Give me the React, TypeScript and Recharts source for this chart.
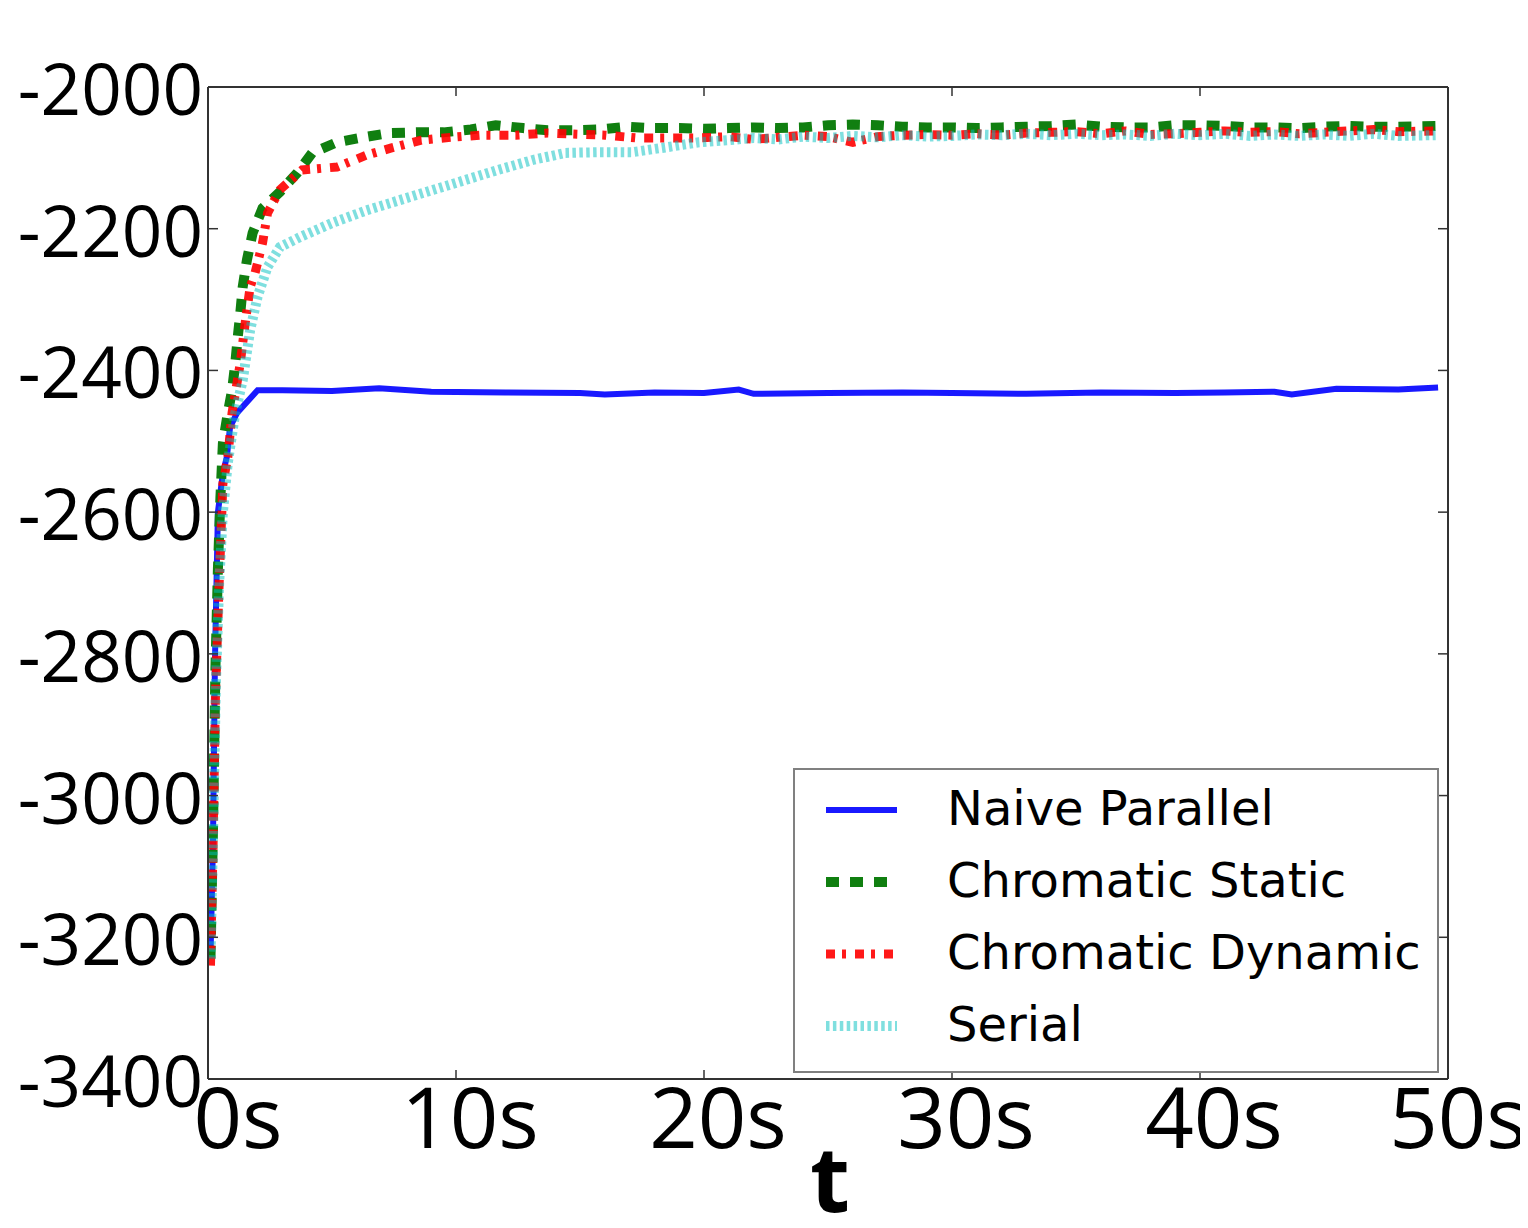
import { LineChart, Line, XAxis, YAxis, Legend } from 'recharts'

const naiveTimes = [0.1, 0.2, 0.28, 0.4, 0.6, 0.76, 0.89, 1.17, 2.0, 3, 5, 6.9, 9, 12, 15, 16, 18, 20, 21.4, 22, 25, 28, 30, 33, 36, 39, 41, 43, 43.7, 45.5, 48, 49.6]
const naiveValues = [-3230, -3070, -2810, -2600, -2545, -2522, -2480, -2460, -2428, -2428, -2429, -2425, -2430, -2431, -2432, -2434, -2431, -2432, -2427, -2433, -2432, -2431, -2432, -2433, -2431, -2432, -2431, -2430, -2434, -2426, -2427, -2424]

const staticTimes = [0.1, 0.2, 0.3, 0.4, 0.5, 0.6, 0.8, 0.97, 1.1, 1.2, 1.3, 1.4, 1.57, 1.8, 2.2, 2.9, 3.6, 4.2, 5.2, 6.25, 7.3, 8.4, 9.5, 10.6, 11.6, 12.7, 13.7, 14.8, 15.8, 16.9, 17.9, 19, 20, 21, 22, 23, 24, 25, 26, 27, 28, 29, 30, 31, 32, 33, 34, 35, 36, 37, 38, 39, 40, 41, 42, 43, 44, 45, 46, 47, 48, 49.5]
const staticValues = [-3230, -3050, -2820, -2680, -2580, -2503, -2460, -2428, -2390, -2353, -2320, -2282, -2244, -2206, -2171, -2148, -2121, -2093, -2078, -2071, -2065, -2064, -2064, -2060, -2054, -2058, -2061, -2061, -2060, -2056, -2058, -2058, -2059, -2058, -2057, -2058, -2057, -2054, -2053, -2054, -2056, -2057, -2057, -2058, -2057, -2056, -2055, -2053, -2056, -2057, -2057, -2054, -2054, -2055, -2057, -2057, -2058, -2056, -2055, -2056, -2056, -2055]

const dynamicTimes = [0.1, 0.2, 0.3, 0.45, 0.6, 0.8, 0.97, 1.3, 1.5, 1.7, 1.9, 2.2, 2.4, 2.9, 3.8, 5.2, 6.4, 7.4, 8.6, 9.8, 11, 12.4, 13.7, 16, 17.3, 19.7, 21, 22, 23, 24, 25, 26, 27, 28, 29, 30, 31, 32, 33, 34, 35, 36, 37, 38, 39, 40, 41, 42, 43, 44, 45, 46, 47, 48, 49.5]
const dynamicValues = [-3240, -3080, -2860, -2700, -2560, -2522, -2460, -2390, -2333, -2282, -2262, -2220, -2178, -2145, -2117, -2113, -2096, -2086, -2075, -2071, -2068, -2068, -2065, -2068, -2072, -2072, -2070, -2074, -2071, -2068, -2070, -2078, -2070, -2068, -2067, -2068, -2066, -2068, -2065, -2064, -2063, -2066, -2062, -2067, -2066, -2064, -2062, -2064, -2063, -2066, -2064, -2062, -2060, -2063, -2062]

const serialTimes = [0.1, 0.2, 0.32, 0.45, 0.6, 0.8, 1.1, 1.4, 1.7, 2.0, 2.4, 2.9, 3.7, 5.0, 6.4, 7.7, 9.0, 10.4, 11.7, 13.1, 14.4, 15.8, 17.1, 18.5, 19.8, 21, 22, 23, 24, 25, 26, 27, 28, 29, 30, 31, 32, 33, 34, 35, 36, 37, 38, 39, 40, 41, 42, 43, 44, 45, 46, 47, 48, 49.5]
const serialValues = [-3230, -3060, -2840, -2700, -2600, -2530, -2460, -2414, -2343, -2296, -2254, -2226, -2212, -2192, -2174, -2160, -2146, -2131, -2117, -2103, -2093, -2092, -2092, -2085, -2078, -2075, -2072, -2074, -2070, -2072, -2069, -2071, -2068, -2070, -2069, -2067, -2068, -2066, -2068, -2066, -2068, -2067, -2069, -2066, -2068, -2066, -2069, -2067, -2069, -2067, -2069, -2066, -2069, -2068]

const xTicks = [0, 10, 20, 30, 40, 50]
const yTicks = [-3400, -3200, -3000, -2800, -2600, -2400, -2200, -2000]

const toPoints = (times: number[], values: number[]) => times.map((t, i) => ({ t, v: values[i] }))

const series = [
  { name: 'Naive Parallel', data: toPoints(naiveTimes, naiveValues), color: '#0000ff', opacity: 0.9, width: 6, dash: undefined },
  { name: 'Chromatic Static', data: toPoints(staticTimes, staticValues), color: '#107f10', opacity: 1, width: 10, dash: '13 11' },
  { name: 'Chromatic Dynamic', data: toPoints(dynamicTimes, dynamicValues), color: '#ff0000', opacity: 0.9, width: 9, dash: '9 7 4 9' },
  { name: 'Serial', data: toPoints(serialTimes, serialValues), color: '#00bfbf', opacity: 0.5, width: 10, dash: '3.5 3.4' },
]

const tickFont = "'Open Sans', sans-serif"
const frame = '#333'

const LeftTick = ({ x, y, payload }: any) => (
  <g>
    <line x1={x} x2={x + 10} y1={y} y2={y} stroke={frame} strokeWidth={1.5} />
    <text x={x - 5} y={y + 28} textAnchor="end" fontSize={71} fontFamily={tickFont} fill="#000">
      {payload.value}
    </text>
  </g>
)

const RightTick = ({ x, y }: any) => (
  <line x1={x - 10} x2={x} y1={y} y2={y} stroke={frame} strokeWidth={1.5} />
)

// labels sit a little right of their ticks, as in the original
const labelShift = (v: number) => (v === 0 ? 30 : v === 50 ? 10 : 14)

const BottomTick = ({ x, y, payload }: any) => (
  <g>
    <line x1={x} x2={x} y1={y - 9} y2={y} stroke={frame} strokeWidth={1.5} />
    <text x={x + labelShift(payload.value)} y={y + 69} textAnchor="middle" fontSize={85} fontFamily={tickFont} fill="#000">
      {`${payload.value}s`}
    </text>
  </g>
)

const TopTick = ({ x, y }: any) => (
  <line x1={x} x2={x} y1={y} y2={y + 9} stroke={frame} strokeWidth={1.5} />
)

const AxisTitle = ({ viewBox }: any) => (
  <text x={viewBox.x + viewBox.width / 2 + 2} y={1212} textAnchor="middle" fontSize={92} fontWeight={700} fontFamily={tickFont} fill="#000">
    t
  </text>
)

function LegendBox() {
  return (
    <div style={{ width: 646, height: 305, boxSizing: 'border-box', border: '2px solid #808080', background: '#fff' }}>
      <svg width={642} height={301} style={{ display: 'block' }}>
        {series.map((s, i) => {
          const base = 55 + i * 72
          return (
            <g key={s.name}>
              <line
                x1={31}
                x2={102}
                y1={base - 15}
                y2={base - 15}
                stroke={s.color}
                strokeOpacity={s.opacity}
                strokeWidth={s.width}
                strokeDasharray={s.dash}
              />
              <text x={152} y={base} fontSize={48} fontFamily="'DejaVu Sans', sans-serif" fill="#000">
                {s.name}
              </text>
            </g>
          )
        })}
      </svg>
    </div>
  )
}

export default function App() {
  return (
    <div style={{ margin: -8, width: 1528, height: 1228, background: '#fff' }}>
      <LineChart width={1528} height={1228} margin={{ top: 0, right: 0, bottom: 0, left: 0 }}>
        <XAxis
          dataKey="t"
          type="number"
          domain={[0, 50]}
          ticks={xTicks}
          allowDataOverflow
          height={149}
          tickSize={0}
          tickMargin={0}
          tickLine={false}
          tick={<BottomTick />}
          axisLine={{ stroke: frame, strokeWidth: 2 }}
          label={<AxisTitle />}
        />
        <XAxis
          xAxisId="top"
          orientation="top"
          dataKey="t"
          type="number"
          domain={[0, 50]}
          ticks={xTicks}
          allowDataOverflow
          height={87}
          tickSize={0}
          tickMargin={0}
          tickLine={false}
          tick={<TopTick />}
          axisLine={{ stroke: frame, strokeWidth: 2 }}
        />
        <YAxis
          type="number"
          domain={[-3400, -2000]}
          ticks={yTicks}
          allowDataOverflow
          width={208}
          tickSize={0}
          tickMargin={0}
          tickLine={false}
          tick={<LeftTick />}
          axisLine={{ stroke: frame, strokeWidth: 2 }}
        />
        <YAxis
          yAxisId="right"
          orientation="right"
          type="number"
          domain={[-3400, -2000]}
          ticks={yTicks}
          allowDataOverflow
          width={80}
          tickSize={0}
          tickMargin={0}
          tickLine={false}
          tick={<RightTick />}
          axisLine={{ stroke: frame, strokeWidth: 2 }}
        />
        {series.map((s) => (
          <Line
            key={s.name}
            name={s.name}
            data={s.data}
            dataKey="v"
            type="linear"
            stroke={s.color}
            strokeOpacity={s.opacity}
            strokeWidth={s.width}
            strokeDasharray={s.dash}
            dot={false}
            activeDot={false}
            isAnimationActive={false}
          />
        ))}
        <Legend
          layout="vertical"
          align="center"
          verticalAlign="middle"
          wrapperStyle={{ left: 793, top: 768, width: 646, height: 305 }}
          content={() => <LegendBox />}
        />
      </LineChart>
    </div>
  )
}
